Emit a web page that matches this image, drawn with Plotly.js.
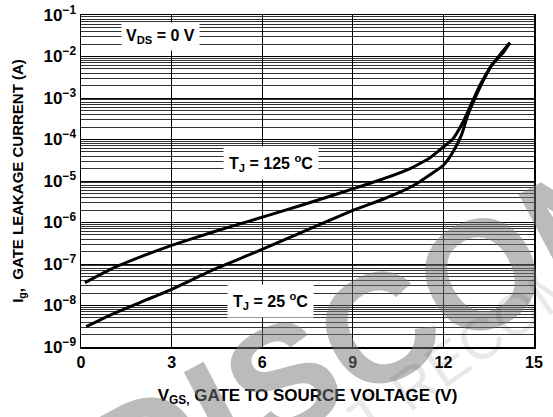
<!DOCTYPE html>
<html>
<head>
<meta charset="utf-8">
<script src="https://cdn.plot.ly/plotly-3.0.1.min.js"></script>
<style>html,body{margin:0;padding:0;background:#fff;}#chart{width:553px;height:417px;}</style>
</head>
<body>
<div id="chart"></div>
<script>
// V_GS (V)
const vgs25  = [0.17, 1.06, 2.18, 3.0, 4.37, 5.6, 6.69, 7.8, 9.0, 10.0, 10.56, 10.9, 11.23, 12.0, 12.3, 12.6, 12.8, 13.05, 13.3, 13.6, 13.97, 14.2];
// log10 of I_g (A) at TJ = 25 C
const ig25log = [-8.51, -8.20, -7.86, -7.61, -7.14, -6.77, -6.43, -6.08, -5.71, -5.44, -5.27, -5.15, -5.01, -4.62, -4.32, -3.89, -3.43, -3.00, -2.61, -2.20, -1.92, -1.67];
const vgs125 = [0.13, 1.06, 2.18, 3.0, 4.37, 5.6, 6.69, 7.8, 9.0, 10.0, 10.9, 11.56, 12.0, 12.32, 12.65, 12.95, 13.21, 13.54, 13.87, 14.2];
// log10 of I_g (A) at TJ = 125 C
const ig125log = [-7.45, -7.10, -6.77, -6.55, -6.23, -5.96, -5.72, -5.47, -5.19, -4.95, -4.70, -4.44, -4.18, -3.98, -3.58, -3.10, -2.69, -2.28, -1.96, -1.67];

const xTicks = [0, 3, 6, 9, 12, 15];
const yExp = [-9, -8, -7, -6, -5, -4, -3, -2, -1];

const ig25 = ig25log.map(v => Math.pow(10, v));
const ig125 = ig125log.map(v => Math.pow(10, v));

const yTickVals = yExp.map(e => Math.pow(10, e));
const yTickText = yExp.map(e => '10<sup>\u2212' + (-e) + '</sup>');
const minorVals = [];
yExp.slice(0, -1).forEach(e => { for (let m = 2; m <= 9; m++) minorVals.push(m * Math.pow(10, e)); });

const FONT = 'Liberation Sans, Arial, Helvetica, sans-serif';

const traces = [
  {x: vgs25, y: ig25, mode: 'lines', line: {color: 'black', width: 3, shape: 'spline', smoothing: 0.4}, hoverinfo: 'skip'},
  {x: vgs125, y: ig125, mode: 'lines', line: {color: 'black', width: 3, shape: 'spline', smoothing: 0.4}, hoverinfo: 'skip'}
];

const layout = {
  width: 553, height: 417,
  margin: {l: 81, r: 19, t: 15, b: 70},
  paper_bgcolor: 'white', plot_bgcolor: 'white',
  showlegend: false,
  font: {family: FONT, color: 'black'},
  xaxis: {
    range: [0, 15], tickvals: xTicks, ticktext: xTicks.map(String),
    showgrid: true, gridcolor: 'black', gridwidth: 1,
    showline: true, linecolor: 'black', linewidth: 1.5, mirror: true,
    ticks: '', zeroline: false,
    tickfont: {family: FONT, size: 16, color: 'black', weight: 'bold'},
    title: {text: '<b>V<sub>GS,</sub> GATE TO SOURCE VOLTAGE (V)</b>', font: {family: FONT, size: 17, color: 'black'}, standoff: 19}
  },
  yaxis: {
    type: 'log', range: [-9, -1],
    tickvals: yTickVals, ticktext: yTickText,
    showgrid: true, gridcolor: 'black', gridwidth: 1,
    minor: {tickvals: minorVals, showgrid: true, gridcolor: 'black', gridwidth: 0.8, ticks: ''},
    showline: true, linecolor: 'black', linewidth: 1.5, mirror: true,
    ticks: '', zeroline: false,
    tickfont: {family: FONT, size: 17, color: 'black', weight: 'bold'},
    title: {text: '<b>I<sub>g</sub>,  GATE LEAKAGE CURRENT (A)</b>', font: {family: FONT, size: 15, color: 'black'}, standoff: 16}
  },
  annotations: [
    {x: 2.62, y: -1.51, xref: 'x', yref: 'y', text: '<b>V<sub>DS</sub> = 0 V</b>', showarrow: false,
     font: {family: FONT, size: 16, color: 'black'}, bgcolor: 'white', borderpad: 4},
    {x: 6.29, y: -4.57, xref: 'x', yref: 'y', text: '<b>T<sub>J</sub> = 125 <sup>o</sup>C</b>', showarrow: false,
     font: {family: FONT, size: 16, color: 'black'}, bgcolor: 'white', borderpad: 5},
    {x: 6.29, y: -7.89, xref: 'x', yref: 'y', text: '<b>T<sub>J</sub> = 25 <sup>o</sup>C</b>', showarrow: false,
     font: {family: FONT, size: 16, color: 'black'}, bgcolor: 'white', borderpad: 5},
    {x: 1.194, y: 0.443, xref: 'paper', yref: 'paper', xanchor: 'center', yanchor: 'middle', text: '<b>DISCONTINUED</b>', showarrow: false,
     textangle: -28, font: {family: FONT, size: 155, color: 'rgba(120,120,120,0.5)'}},
    {x: 0.996, y: 0.133, xref: 'paper', yref: 'paper', xanchor: 'center', yanchor: 'middle', text: 'NOT RECOMMENDED', showarrow: false,
     textangle: -35, font: {family: FONT, size: 58, color: 'rgba(0,0,0,0.09)'}}
  ]
};

Plotly.newPlot('chart', traces, layout, {staticPlot: true, displayModeBar: false});
</script>
</body>
</html>
